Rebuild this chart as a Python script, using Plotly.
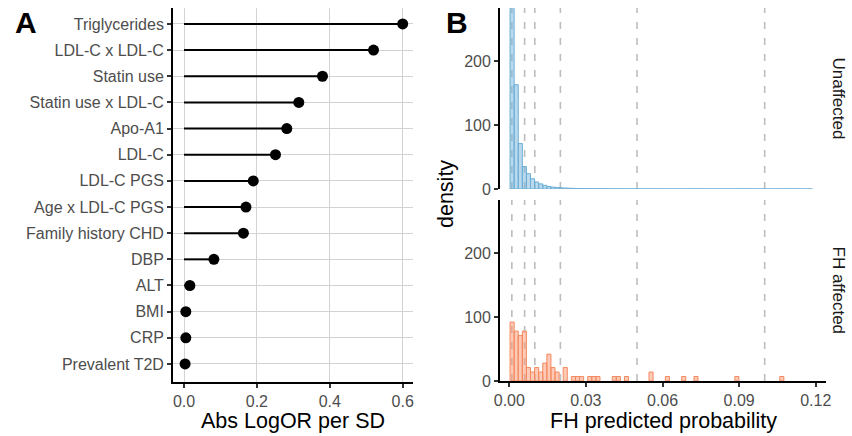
"""Two-panel figure: predictor importance lollipop (A) and FH probability histograms (B)."""

import plotly.graph_objects as go

W, H = 852, 436
FONT = "Liberation Sans, Arial, sans-serif"
TICK_COLOR = "#4D4D4D"

# ---- Panel A data -------------------------------------------------------
predictors = [
    "Triglycerides", "LDL-C x LDL-C", "Statin use", "Statin use x LDL-C",
    "Apo-A1", "LDL-C", "LDL-C PGS", "Age x LDL-C PGS", "Family history CHD",
    "DBP", "ALT", "BMI", "CRP", "Prevalent T2D",
]
abs_logor = [
    0.600, 0.520, 0.380, 0.315, 0.282, 0.251, 0.190, 0.170, 0.163,
    0.082, 0.016, 0.005, 0.005, 0.003,
]
logor_ticks = [0.0, 0.2, 0.4, 0.6]
logor_ticktext = ["0.0", "0.2", "0.4", "0.6"]

# ---- Panel B data -------------------------------------------------------
BIN_START = 0.0003
BIN_WIDTH = 0.0016
unaffected_density = [
    330, 163, 71, 35, 24, 16, 11, 8, 5.7, 4, 3, 2.4, 1.9, 1.5, 1.2, 1.0,
    0.8, 0.7, 0.6, 0.5, 0.45, 0.4, 0.35, 0.3, 0.3, 0.25, 0.25, 0.2, 0.2,
    0.2, 0.15, 0.15, 0.15, 0.1, 0.1, 0.1, 0.1, 0.1, 0.1, 0.1, 0.1, 0.1,
    0.1, 0.1, 0.1, 0.1, 0.1, 0.1, 0.1, 0.1, 0.1, 0.1, 0.1, 0.1, 0.1, 0.1,
    0.1, 0.1, 0.1, 0.1, 0.1, 0.1, 0.1, 0.1, 0.1, 0.1, 0.1, 0.1, 0.1, 0.1,
    0.1, 0.1, 0.1, 0.1,
]
affected_density = [
    92, 78, 71, 78, 21, 14, 21, 14, 28, 42, 21, 14, 0, 21, 0, 7,
    7, 7, 0, 7, 7, 7, 0, 0, 0, 7, 7, 0, 7, 0, 0, 0, 0, 0, 14, 0,
    0, 0, 7, 0, 0, 0, 7, 0, 0, 7, 0, 0, 0, 0, 0, 0, 0, 0, 0, 7,
    0, 0, 0, 0, 0, 0, 0, 0, 0, 0, 7, 0, 0, 0, 0, 0, 0, 0,
]
thresholds = [0.001, 0.006, 0.01, 0.02, 0.05, 0.1]
prob_ticks = [0.0, 0.03, 0.06, 0.09, 0.12]
prob_ticktext = ["0.00", "0.03", "0.06", "0.09", "0.12"]
density_ticks = [0, 100, 200]


def px(x):
    return x / W


def py(y):
    return 1 - y / H


def axis_style(**kw):
    base = dict(
        showline=True, linecolor="black", linewidth=1.8,
        ticks="outside", ticklen=4, tickwidth=1.5, tickcolor="#333333",
        tickfont=dict(size=16, color=TICK_COLOR, family=FONT),
        zeroline=False, showgrid=False, automargin=False,
    )
    base.update(kw)
    return base


fig = go.Figure()

# Panel A: lollipops
seg_x, seg_y = [], []
for name, val in zip(predictors, abs_logor):
    seg_x += [0, val, None]
    seg_y += [name, name, None]
fig.add_trace(go.Scatter(
    x=seg_x, y=seg_y, mode="lines",
    line=dict(color="black", width=2), xaxis="x", yaxis="y", hoverinfo="skip",
))
fig.add_trace(go.Scatter(
    x=abs_logor, y=predictors, mode="markers",
    marker=dict(color="black", size=11), xaxis="x", yaxis="y",
))

# Panel B: histograms (empty bins are left undrawn)
centers = [BIN_START + BIN_WIDTH * (k + 0.5) for k in range(len(unaffected_density))]
fig.add_trace(go.Bar(
    x=centers, y=unaffected_density, width=BIN_WIDTH,
    marker=dict(color="rgba(120,180,218,0.5)", line=dict(color="#6BAED6", width=1)),
    xaxis="x2", yaxis="y2",
))
fig.add_trace(go.Bar(
    x=centers, y=[v if v > 0 else None for v in affected_density], width=BIN_WIDTH,
    marker=dict(color="rgba(250,150,110,0.5)", line=dict(color="#F4895F", width=1)),
    xaxis="x3", yaxis="y3",
))

for t in thresholds:
    for xr, yr in (("x2", "y2 domain"), ("x3", "y3 domain")):
        fig.add_shape(
            type="line", x0=t, x1=t, y0=0, y1=1, xref=xr, yref=yr,
            line=dict(color="#BDBDBD", width=1.6, dash="7px,9px"), layer="below",
        )

a_dom = [px(173), px(413)]
b_dom = [px(500), px(826)]
b_range = [-0.00364, 0.1240]
d_range = [0, 282.8]

fig.update_layout(
    template="none",
    width=W, height=H, margin=dict(l=0, r=0, t=0, b=0, autoexpand=False),
    paper_bgcolor="white", plot_bgcolor="white", showlegend=False,
    font=dict(family=FONT, color="black"),
    xaxis=axis_style(
        domain=a_dom, anchor="y", range=[-0.0302, 0.6283],
        tickvals=logor_ticks, ticktext=logor_ticktext,
        showgrid=True, gridcolor="#D3D3D3", gridwidth=1.2,
    ),
    yaxis=axis_style(
        domain=[py(382), py(8)], anchor="x", type="category",
        categoryorder="array", categoryarray=predictors[::-1],
        range=[-0.69, 13.61], showgrid=True, gridcolor="#D3D3D3", gridwidth=1.2,
    ),
    xaxis2=dict(domain=b_dom, anchor="y2", range=b_range, visible=False),
    yaxis2=axis_style(domain=[py(189), py(8)], anchor="x2", range=d_range, tickvals=density_ticks),
    xaxis3=axis_style(
        domain=b_dom, anchor="y3", range=b_range,
        tickvals=prob_ticks, ticktext=prob_ticktext,
    ),
    yaxis3=axis_style(domain=[py(381), py(200)], anchor="x3", range=d_range, tickvals=density_ticks),
)

labels = [
    dict(text="<b>A</b>", x=px(13), y=py(22), xanchor="left", size=30, angle=0),
    dict(text="<b>B</b>", x=px(444), y=py(22), xanchor="left", size=30, angle=0),
    dict(text="Abs LogOR per SD", x=px(293), y=py(421), xanchor="center", size=21.5, angle=0),
    dict(text="FH predicted probability", x=px(663), y=py(421), xanchor="center", size=21.5, angle=0),
    dict(text="density", x=px(446), y=py(194), xanchor="center", size=21.5, angle=-90),
    dict(text="Unaffected", x=px(838), y=py(98.5), xanchor="center", size=17, angle=90),
    dict(text="FH affected", x=px(838), y=py(290.5), xanchor="center", size=17, angle=90),
]
for lab in labels:
    fig.add_annotation(
        text=lab["text"], x=lab["x"], y=lab["y"], xref="paper", yref="paper",
        xanchor=lab["xanchor"], yanchor="middle", textangle=lab["angle"],
        showarrow=False,
        font=dict(size=lab["size"], family=FONT, color="#1A1A1A" if lab["angle"] == 90 else "black"),
    )

# the page body has a default 8px margin; drop it so the figure fills the window
fig.write_html(
    "out.html",
    config={"displayModeBar": False},
    post_script="document.body.style.margin = '0px';",
)
